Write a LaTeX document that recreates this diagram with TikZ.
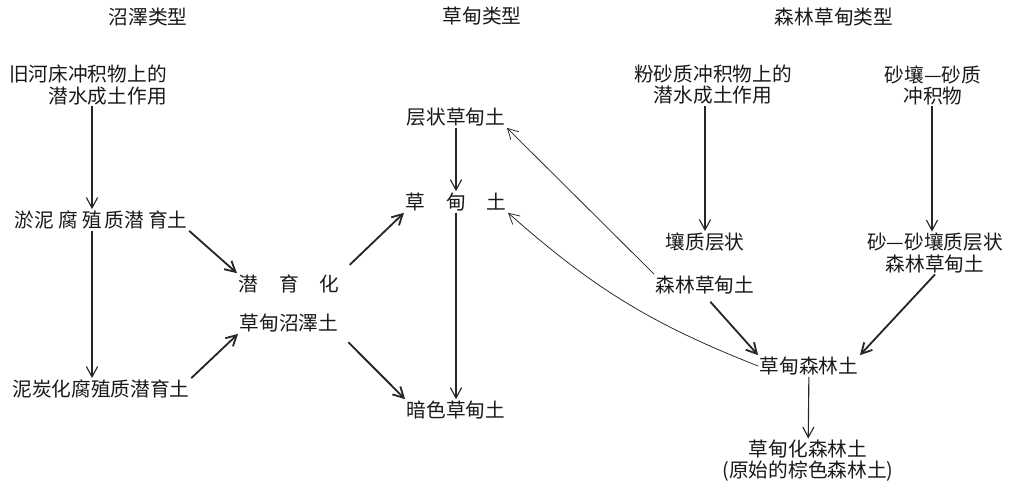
\documentclass[tikz,border=0pt]{standalone}
\usepackage{fontspec}
\setmainfont{Noto Sans CJK SC}
\usetikzlibrary{arrows.meta,positioning,calc}

\begin{document}
\begin{tikzpicture}[x=0.025cm, y=-0.025cm,
  soil/.style={inner sep=1pt, align=center, text=black!90, font=\fontsize{14}{15}\selectfont},
  line/.style={draw, black!85, -{Straight Barb[length=2.6mm, width=2.8mm]}, line width=0.8pt},
  thick line/.style={line, line width=1.3pt},
  thin line/.style={line, line width=0.55pt}]
  \useasboundingbox (0,0) rectangle (1020,484);
  % headings
  \node [soil] (swamp) at (148,17) {沼澤类型};
  \node [soil] (meadow) at (482,16) {草甸类型};
  \node [soil] (forest) at (834,17) {森林草甸类型};
  % swamp column
  \node [soil, align=right] (oldbed) at (88,85) {旧河床冲积物上的\\潜水成土作用};
  \node [soil] (silty) at (101,220) {淤泥\kern3pt 腐\kern3pt 殖\kern2pt 质潜\kern3pt 育土};
  \node [soil] (peaty) at (101,389) {泥炭化腐殖质潜育土};
  \node [soil] (gley) at (289,284) {潜\hspace{0.52cm}育\hspace{0.52cm}化};
  \node [soil] (mswamp) at (289,323) {草甸沼澤土};
  % meadow column
  \node [soil] (layered) at (456,117) {层状草甸土};
  \node [soil] (mead) at (456,202) {草\hspace{0.52cm}甸\hspace{0.52cm}土};
  \node [soil] (dark) at (456,410) {暗色草甸土};
  % forest meadow column
  \node [soil] (silt) at (713,85) {粉砂质冲积物上的\\潜水成土作用};
  \node [soil] (loamy) at (705,242) {壤质层状};
  \node [soil] (fmead) at (705,285) {森林草甸土};
  \node [soil] (sandy) at (933,85) {砂壤—砂质\\冲积物};
  \node [soil] (sandfm) at (935,253) {砂—砂壤质层状\\森林草甸土};
  \node [soil] (mforest) at (809,366) {草甸森林土};
  \node [soil] (brown) at (808,461) {草甸化森林土\\(原始的棕色森林土)};
  \coordinate (col1) at (92,0);
  \coordinate (col3) at (705,0);
  \coordinate (col4) at (932,0);
  % connectors
  \path [line] (oldbed.south -| col1) -- (silty.north -| col1);
  \path [line] (silty.south -| col1) -- (peaty.north -| col1);
  \path [thick line] (silty.south east) -- (gley.north west);
  \path [thick line] (peaty.north east) -- (mswamp.south west);
  \path [thick line, shorten <=0.3cm] (gley.north east) -- (mead.south west);
  \path [thick line, shorten <=0.3cm] (mswamp.south east) -- (dark.north west);
  \path [line] (layered) -- (mead);
  \path [line] (mead) -- (dark);
  \path [thin line] (fmead.north west) -- (layered.south east);
  \path [thin line] (mforest.west) to[bend left=10] (mead.south east);
  \path [line] (silt.south -| col3) -- (loamy.north -| col3);
  \path [line] (sandy.south -| col4) -- (sandfm.north -| col4);
  \path [thick line, shorten <=0.2cm] (fmead.south) -- (mforest.north west);
  \path [thick line] (sandfm.south) -- (mforest.north east);
  \path [line] (mforest) -- (brown);
\end{tikzpicture}
\end{document}
